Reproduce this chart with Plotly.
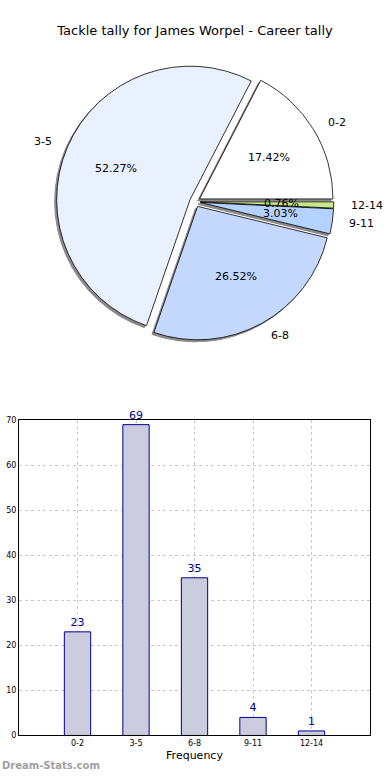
import math
import plotly.graph_objects as go

categories = ["0-2", "3-5", "6-8", "9-11", "12-14"]
tackles = [23, 69, 35, 4, 1]
pie_colors = ["#ffffff", "#e9f0fe", "#c4d8fe", "#b3d2fe", "#c8e68a"]
y_ticks = [0, 10, 20, 30, 40, 50, 60, 70]

W, H = 390, 780
pull_frac = 0.04
pull = [pull_frac] * len(tackles)
radius_px = 135
center_px = (195, 200)

side = radius_px * 2 * (1 + pull_frac)
pie_dom_x = [0.03, 0.97]
pie_dom_y = [1 - (center_px[1] + side / 2) / H, 1 - (center_px[1] - side / 2) / H]

total = sum(tackles)
first_span = 360 * tackles[0] / total

fig = go.Figure()

common = dict(labels=categories, values=tackles, sort=False, direction="counterclockwise",
              rotation=90 - first_span, pull=pull, showlegend=False, textinfo="none")

sx, sy = 2 / W, 2 / H
fig.add_trace(go.Pie(
    **common, hoverinfo="skip",
    marker=dict(colors=["#8a8a8a"] * 5, line=dict(color="#8a8a8a", width=1)),
    domain=dict(x=[pie_dom_x[0] - sx, pie_dom_x[1] - sx], y=[pie_dom_y[0] - sy, pie_dom_y[1] - sy]),
))
fig.add_trace(go.Pie(
    **common,
    marker=dict(colors=pie_colors, line=dict(color="#000000", width=0.8)),
    domain=dict(x=pie_dom_x, y=pie_dom_y),
))

# percent and label annotations placed like matplotlib (0.6 r inside, 1.1 r outside)
annotations = []
start = 0.0
for cat, v in zip(categories, tackles):
    span = 360 * v / total
    mid = math.radians(start + span / 2)
    start += span
    shift = pull_frac * radius_px
    cx = center_px[0] + shift * math.cos(mid)
    cy = center_px[1] - shift * math.sin(mid)
    px = cx + 0.6 * radius_px * math.cos(mid)
    py = cy - 0.6 * radius_px * math.sin(mid)
    annotations.append(dict(text=f"{100 * v / total:.2f}%", x=px / W, y=1 - py / H,
                            xref="paper", yref="paper", showarrow=False,
                            xanchor="center", yanchor="middle",
                            font=dict(size=11, color="#000000", family="DejaVu Sans")))
    lx = cx + 1.1 * radius_px * math.cos(mid)
    ly = cy - 1.1 * radius_px * math.sin(mid)
    annotations.append(dict(text=cat, x=lx / W, y=1 - ly / H,
                            xref="paper", yref="paper", showarrow=False,
                            xanchor="left" if math.cos(mid) >= 0 else "right", yanchor="middle",
                            font=dict(size=11, color="#000000", family="DejaVu Sans")))

annotations.append(dict(text="<b>Dream-Stats.com</b>", x=0, y=2 / H, xref="paper", yref="paper",
                        xanchor="left", yanchor="bottom", showarrow=False,
                        font=dict(size=10, color="#a0a0a0", family="DejaVu Sans")))

fig.add_trace(go.Bar(
    x=categories, y=tackles, width=0.45,
    marker=dict(color="#ccccdf", line=dict(color="#00008b", width=1)),
    text=tackles, textposition="outside", cliponaxis=False,
    textfont=dict(family="DejaVu Sans", size=11, color="#00008b"),
    showlegend=False, xaxis="x", yaxis="y",
))

fig.update_layout(
    width=W, height=H,
    margin=dict(l=0, r=0, t=0, b=0),
    paper_bgcolor="white", plot_bgcolor="white",
    font=dict(family="DejaVu Sans", color="#000000"),
    title=dict(text="Tackle tally for James Worpel - Career tally", x=0.5, xanchor="center",
               y=1 - 30 / H, yanchor="middle", font=dict(size=13, family="DejaVu Sans")),
    xaxis=dict(domain=[19 / W, 370 / W], anchor="y", range=[-1, 5],
               showline=True, mirror=True, linecolor="#000000", linewidth=1,
               showgrid=True, gridcolor="#c8c8c8", griddash="dot", gridwidth=1,
               ticks="", tickfont=dict(size=8), title=dict(text="Frequency", font=dict(size=11), standoff=4),
               fixedrange=True),
    yaxis=dict(domain=[40 / H, 359 / H], anchor="x", range=[0, 70], tickvals=y_ticks,
               showline=True, mirror=True, linecolor="#000000", linewidth=1,
               showgrid=True, gridcolor="#c8c8c8", griddash="dot", gridwidth=1,
               zeroline=False, ticks="", tickfont=dict(size=8)),
    annotations=annotations,
)

fig.write_html(
    "out.html",
    config={"displayModeBar": False},
    post_script=(
        "document.documentElement.style.margin='0';document.documentElement.style.padding='0';"
        "document.documentElement.style.overflow='hidden';"
        "document.body.style.margin='0';document.body.style.padding='0';"
        "document.body.style.overflow='hidden';"
    ),
)
